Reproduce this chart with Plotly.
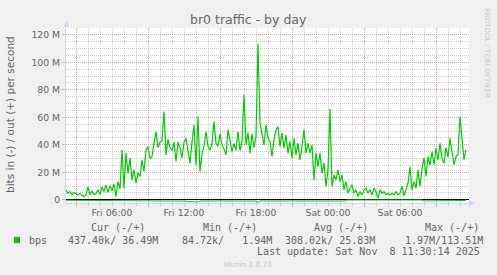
import plotly.graph_objects as go
import pandas as pd

W, H = 497, 275
ML, MR, MT, MB = 66, 28, 28, 72

# ---------------- data ----------------
start_time = "2025-11-07 02:10"
step = "10min"
# out traffic (Mbit/s), one value every 10 minutes
out_mbps = [
    7.3, 4.8, 6.0, 3.8, 5.3, 4.2, 3.6, 4.4, 3.5, 2.4, 4.0, 9.5, 3.6, 6.5, 3.8, 4.5,
    7.3, 3.8, 9.2, 6.0, 10.9, 5.5, 10.2, 6.5, 11.6, 2.4, 13.3, 8.0, 36.4, 8.5, 34.0, 19.4,
    30.3, 14.5, 22.0, 12.1, 19.6, 17.0, 29.0, 20.6, 36.4, 38.8, 30.0, 31.5, 41.2, 49.7, 38.0, 42.0,
    43.0, 64.2, 32.7, 44.0, 38.0, 36.0, 42.0, 27.9, 42.0, 38.0, 30.3, 42.0, 44.8, 35.0, 26.7, 42.0,
    54.5, 25.5, 60.6, 20.6, 33.0, 39.0, 49.7, 39.0, 36.0, 41.0, 57.0, 41.0, 39.0, 48.0, 40.0, 37.0,
    32.7, 51.0, 44.0, 35.0, 41.0, 36.0, 49.7, 36.0, 42.0, 76.4, 40.0, 49.0, 34.0, 48.0, 38.0, 46.0,
    113.5, 55.8, 48.0, 40.0, 54.5, 45.0, 42.4, 31.5, 43.6, 51.0, 53.3, 38.8, 48.5, 37.6, 47.3, 34.0,
    42.4, 30.3, 44.8, 32.7, 41.2, 29.0, 38.8, 51.0, 34.0, 41.2, 34.0, 40.0, 14.5, 34.0, 24.2, 34.0,
    19.4, 26.7, 9.7, 21.8, 66.0, 9.7, 18.2, 14.5, 21.8, 13.3, 18.2, 7.3, 13.3, 4.8, 8.5, 10.9,
    4.8, 7.3, 2.4, 6.0, 3.6, 7.3, 8.5, 4.8, 7.3, 3.6, 8.5, 6.0, 1.2, 7.3, 4.8, 6.0,
    3.6, 4.8, 3.6, 4.8, 3.6, 6.0, 3.6, 4.8, 9.7, 3.0, 7.3, 12.1, 24.2, 7.3, 13.3, 8.5,
    21.8, 9.7, 23.0, 30.3, 17.0, 31.5, 25.0, 35.0, 25.5, 37.6, 29.0, 41.2, 30.0, 26.7, 38.0, 31.0,
    44.8, 33.0, 25.5, 31.5, 33.0, 60.6, 42.0, 29.0, 36.4,
]
# in traffic (drawn negative, Mbit/s)
in_times = [
    "2025-11-07 02:10", "2025-11-07 04:10", "2025-11-07 06:10", "2025-11-07 06:40",
    "2025-11-07 09:00", "2025-11-07 12:00", "2025-11-07 13:10", "2025-11-07 13:20",
    "2025-11-07 15:00", "2025-11-07 18:00", "2025-11-07 18:10", "2025-11-07 18:20",
    "2025-11-07 21:00", "2025-11-08 01:25", "2025-11-08 01:35", "2025-11-08 07:50",
    "2025-11-08 08:00", "2025-11-08 11:30",
]
in_mbps = [
    -0.3, -0.4, -0.3, -0.8, -0.8, -0.9, -1.6, -0.8, -0.8, -0.9, -1.97, -0.8,
    -0.8, -0.8, -0.1, -0.1, -0.8, -0.44,
]

x_range = ["2025-11-07 02:10", "2025-11-08 11:45"]
label_times = ["2025-11-07 06:00", "2025-11-07 12:00", "2025-11-07 18:00",
               "2025-11-08 00:00", "2025-11-08 06:00"]
label_text = ["Fri 06:00", "Fri 12:00", "Fri 18:00", "Sat 00:00", "Sat 06:00"]
major_grid_times = ["2025-11-07 03:00", "2025-11-07 09:00", "2025-11-07 15:00",
                    "2025-11-07 21:00", "2025-11-08 03:00", "2025-11-08 09:00"]
y_ticks = [0, 20, 40, 60, 80, 100, 120]
y_ticktext = ["0", "20 M", "40 M", "60 M", "80 M", "100 M", "120 M"]
y_range = [-2.3, 125]

title = "br0 traffic - by day"
y_title = "bits in (-) / out (+) per second"
legend_headers = ["Cur (-/+)", "Min (-/+)", "Avg (-/+)", "Max (-/+)"]
legend_values = ["437.40k/\u00a036.49M", "84.72k/\u00a0\u00a0\u00a01.94M",
                 "308.02k/\u00a025.83M", "1.97M/113.51M"]
series_name = "bps"
last_update = "Last update: Sat Nov\u00a0\u00a08 11:30:14 2025"
watermark = "RRDTOOL / TOBI OETIKER"
munin_ver = "Munin 2.0.73"

# ---------------- styling ----------------
GREEN = "#00cc00"
FONT = "#666666"
AXIS = "#CFD6F8"
MGRID = "rgba(225,130,130,0.55)"
GRID = "rgba(160,160,160,0.5)"
DOT = "1px,1px"
SANS = "DejaVu Sans"
MONO = "DejaVu Sans Mono"

out_times = pd.date_range(start_time, periods=len(out_mbps), freq=step)

fig = go.Figure()
fig.add_trace(go.Scatter(x=in_times, y=in_mbps, mode="lines", xaxis="x2", yaxis="y",
                         line=dict(color=GREEN, width=1), hoverinfo="skip"))
fig.add_trace(go.Scatter(x=out_times, y=out_mbps, mode="lines",
                         line=dict(color=GREEN, width=1.2), hoverinfo="skip"))

PW = W - ML - MR
PH = H - MT - MB


def px2x(px):
    return (px - ML) / PW


def py2y(py):
    return (H - MB - py) / PH


fig.update_layout(
    width=W, height=H,
    margin=dict(l=ML, r=MR, t=MT, b=MB, pad=0),
    paper_bgcolor="#f0f0f0", plot_bgcolor="#ffffff",
    showlegend=False,
    xaxis=dict(
        type="date", range=x_range, tickmode="array", tickvals=major_grid_times,
        showticklabels=False, showgrid=True, gridcolor=MGRID, griddash=DOT, gridwidth=1,
        ticks="outside", ticklen=3, tickcolor=MGRID,
        showline=True, linecolor=AXIS, linewidth=1, zeroline=False,
        minor=dict(dtick=3600000, tick0="2025-11-07 00:00", showgrid=True,
                   gridcolor=GRID, griddash=DOT, gridwidth=1,
                   ticks="outside", ticklen=2, tickcolor=GRID),
    ),
    xaxis2=dict(
        type="date", range=x_range, overlaying="x", anchor="y", side="bottom",
        tickmode="array", tickvals=label_times, ticktext=label_text,
        showgrid=False, zeroline=False, ticks="", showline=False,
        ticklabelstandoff=3,
        tickfont=dict(family=SANS, size=9.3, color=FONT),
    ),
    yaxis=dict(
        range=y_range, tickmode="array", tickvals=y_ticks, ticktext=y_ticktext,
        showgrid=True, gridcolor=MGRID, griddash=DOT, gridwidth=1,
        zeroline=True, zerolinecolor="#000000", zerolinewidth=1,
        showline=True, linecolor=AXIS, linewidth=1,
        ticks="outside", ticklen=3, tickcolor=MGRID,
        tickfont=dict(family=SANS, size=9.3, color=FONT),
        minor=dict(dtick=5, showgrid=True, gridcolor=GRID, griddash=DOT, gridwidth=1),
    ),
)

ann = []
ann.append(dict(text=title, x=px2x(248.5), y=py2y(19), xref="paper", yref="paper",
                xanchor="center", yanchor="middle", showarrow=False,
                font=dict(family=SANS, size=12.5, color=FONT)))
ann.append(dict(text=y_title, x=px2x(10), y=py2y(115), xref="paper", yref="paper",
                xanchor="center", yanchor="middle", showarrow=False, textangle=-90,
                font=dict(family=SANS, size=10.5, color=FONT)))
ann.append(dict(text=watermark, x=px2x(487), y=py2y(53), xref="paper", yref="paper",
                xanchor="center", yanchor="middle", showarrow=False, textangle=90,
                font=dict(family=SANS, size=7, color="#c8c8c8")))
head_x = [89.3, 201, 312.3, 422.7]
val_x = [66, 180, 283.3, 403.3]
for t, hx in zip(legend_headers, head_x):
    ann.append(dict(text=t.replace(" ", "\u00a0"), x=px2x(hx), y=py2y(227.5),
                    xref="paper", yref="paper", xanchor="left", yanchor="middle",
                    showarrow=False, font=dict(family=MONO, size=10, color=FONT)))
for t, vx in zip(legend_values, val_x):
    ann.append(dict(text=t, x=px2x(vx), y=py2y(240), xref="paper", yref="paper",
                    xanchor="left", yanchor="middle", showarrow=False,
                    font=dict(family=MONO, size=10, color=FONT)))
ann.append(dict(text=series_name, x=px2x(26.7), y=py2y(240), xref="paper", yref="paper",
                xanchor="left", yanchor="middle", showarrow=False,
                font=dict(family=MONO, size=10, color=FONT)))
ann.append(dict(text=last_update, x=px2x(482.3), y=py2y(251.8), xref="paper", yref="paper",
                xanchor="right", yanchor="middle", showarrow=False,
                font=dict(family=MONO, size=10, color=FONT)))
ann.append(dict(text=munin_ver, x=px2x(248), y=py2y(264), xref="paper", yref="paper",
                xanchor="center", yanchor="middle", showarrow=False,
                font=dict(family=SANS, size=7.3, color="#c8c8c8")))
fig.update_layout(annotations=ann)

shapes = []
# legend colour box
shapes.append(dict(type="rect", xref="paper", yref="paper",
                   x0=px2x(14), x1=px2x(20), y0=py2y(243), y1=py2y(237),
                   fillcolor=GREEN, line=dict(width=0)))
# axis arrows
shapes.append(dict(type="path", xref="paper", yref="paper",
                   path="M {} {} L {} {} L {} {} Z".format(px2x(63.5), py2y(27), px2x(69.5), py2y(27),
                                                            px2x(66.5), py2y(21)),
                   fillcolor=AXIS, line=dict(width=0)))
shapes.append(dict(type="path", xref="paper", yref="paper",
                   path="M {} {} L {} {} L {} {} Z".format(px2x(469), py2y(200.3), px2x(469), py2y(206.3),
                                                            px2x(475), py2y(203.3)),
                   fillcolor=AXIS, line=dict(width=0)))
fig.update_layout(shapes=shapes)

fig.write_html("out.html")
